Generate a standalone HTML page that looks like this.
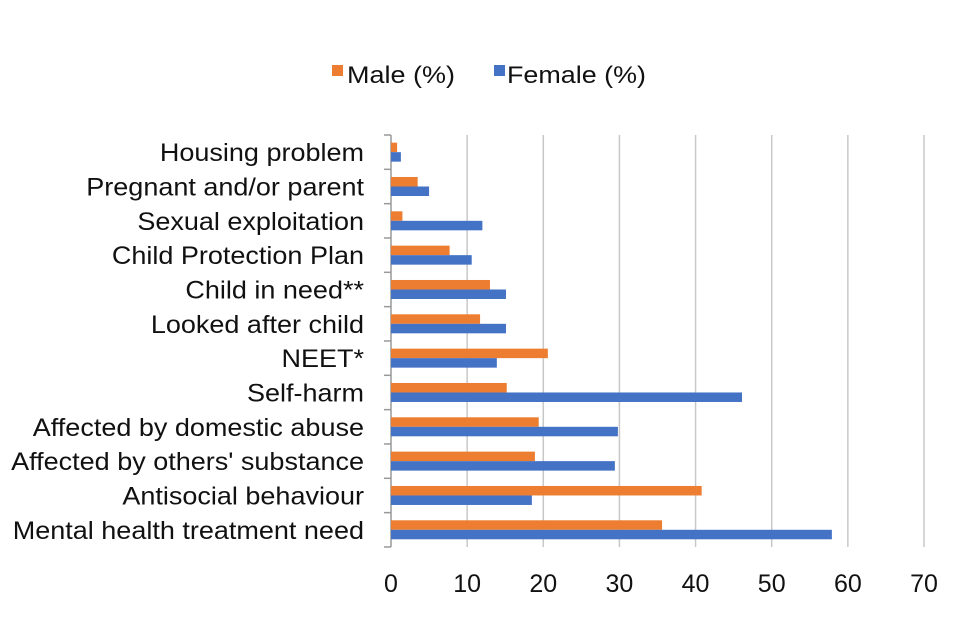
<!DOCTYPE html>
<html><head><meta charset="utf-8"><style>
body{margin:0;background:#fff;}
svg{display:block;font-family:"Liberation Sans",sans-serif;}
</style></head><body>
<svg id="chart" width="960" height="640">
<g>
<rect x="332" y="65" width="11" height="11" fill="#ed7d31"/>
<text x="347" y="83" font-size="24" fill="#111" textLength="108" lengthAdjust="spacingAndGlyphs">Male (%)</text>
<rect x="494" y="65" width="11" height="11" fill="#4472c4"/>
<text x="507" y="83" font-size="24" fill="#111" textLength="139" lengthAdjust="spacingAndGlyphs">Female (%)</text>
</g>
<g id="grid"></g><g id="bars"></g><g id="labels"></g>
</svg>
<script>
const categories=["Housing problem","Pregnant and/or parent","Sexual exploitation","Child Protection Plan","Child in need**","Looked after child","NEET*","Self-harm","Affected by domestic abuse","Affected by others' substance","Antisocial behaviour","Mental health treatment need"];
const maleValues=[0.8,3.5,1.5,7.7,13,11.7,20.6,15.2,19.4,18.9,40.8,35.6];
const femaleValues=[1.3,5,12,10.6,15.1,15.1,13.9,46.1,29.8,29.4,18.5,57.9];
const xTicks=[0,10,20,30,40,50,60,70];
const NS="http://www.w3.org/2000/svg";
const x0=391,xMax=70,xW=533,plotTop=135,band=34.33;
const plotBottom=plotTop+band*categories.length;
function xs(v){return x0+v/xMax*xW;}
function yb(i){return plotTop+band*i;}
function mk(tag,attrs,parent){const e=document.createElementNS(NS,tag);for(const k in attrs)e.setAttribute(k,attrs[k]);document.getElementById(parent).appendChild(e);return e;}
function widen(t,f){const w=t.getComputedTextLength();t.setAttribute('textLength',w*f);t.setAttribute('lengthAdjust','spacingAndGlyphs');}
xTicks.forEach(t=>{
  if(t>0){const g=mk('line',{x1:xs(t),x2:xs(t),y1:plotTop,y2:plotBottom,stroke:'#c8c8c8','stroke-width':1.5},'grid');
  
  }
  const tx=mk('text',{x:xs(t),y:592,'font-size':25,'text-anchor':'middle',fill:'#111'},'labels');
  tx.textContent=t;
  
  
});
const ax=mk('line',{x1:x0,x2:x0,y1:plotTop,y2:plotBottom,stroke:'#999','stroke-width':1.5},'grid');


for(let i=0;i<=categories.length;i++){
  const tk=mk('line',{x1:x0-7,x2:x0,y1:yb(i),y2:yb(i),stroke:'#999','stroke-width':1.5},'grid');
  
  
}
categories.forEach((c,i)=>{
  const cy=yb(i)+band/2;
  const m=mk('rect',{x:x0,y:cy-9.5,width:xs(maleValues[i])-x0,height:9.5,fill:'#ed7d31'},'bars');
  
  
  const f=mk('rect',{x:x0,y:cy,width:xs(femaleValues[i])-x0,height:9.5,fill:'#4472c4'},'bars');
  
  
  const t=mk('text',{x:364,y:cy+9,'font-size':25,'text-anchor':'end',fill:'#111'},'labels');
  t.textContent=c;
  
  
  widen(t,1.08);
});
</script>
</body></html>
